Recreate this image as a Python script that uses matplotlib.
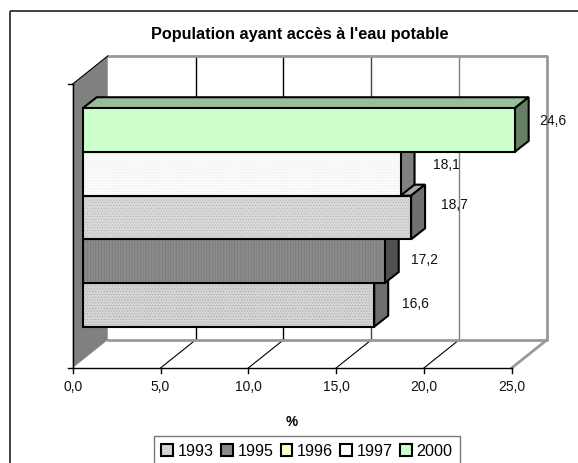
import matplotlib
matplotlib.use("Agg")
import matplotlib.pyplot as plt
from matplotlib.patches import Polygon, Rectangle

plt.rcParams['font.family'] = ['Liberation Sans', 'DejaVu Sans']
plt.rcParams['hatch.linewidth'] = 0.3

years = ['1993', '1995', '1996', '1997', '2000']
values = [16.6, 17.2, 18.7, 18.1, 24.6]
labels = ['16,6', '17,2', '18,7', '18,1', '24,6']
front_colors = ['#d4d4d4', '#8a8a8a', '#d8d8d8', '#fbfbfb', '#ccffcc']
hatch_colors = ['#a0a0a0', '#707070', '#a8a8a8', '#e4e4e4', None]
top_colors = ['#a0a0a0', '#707070', '#a8a8a8', '#b8b8b8', '#99bf99']
side_colors = ['#6e6e6e', '#505050', '#707070', '#808080', '#667f66']
hatches = ['......', '||||||', '......', '......', None]
legend_colors = ['#d4d4d4', '#8a8a8a', '#ffffcc', '#ffffff', '#ccffcc']
x_ticks = [0, 5, 10, 15, 20, 25]
x_ticklabels = ['0,0', '5,0', '10,0', '15,0', '20,0', '25,0']
grid_colors = ['black', 'black', '#444444', '#808080']

W, H = 578, 463
fig = plt.figure(figsize=(W / 100, H / 100), dpi=100)
# outer chart frame, runs off the right and bottom of the picture
fig.add_artist(Rectangle((9.5 / W, 1 - 11 / H), (590 - 9.5) / W, -(470 - 11) / H, transform=fig.transFigure,
                         fc='none', ec='#222222', lw=1.2, zorder=-1))

# front plane of the 3d box, in pixels: x 72.7-511.7, y 84-368
ax = fig.add_axes([72.7 / W, 1 - 368 / H, 439 / W, 284 / H])
ax.set_xlim(0, 25)
ax.set_ylim(-1.445, 5.055)
ax.axis('off')

ux = 439 / 25  # px per x unit
uy = 43.7      # px per bar
wall_dx, wall_dy = 35 / ux, 28 / uy
bar_x0 = 10 / ux
depth_x, depth_y = 14 / ux, 11 / uy
y0, y1 = -1.445, 5.055
# label nudges in px (dx, dy up), excel places these unevenly
label_nudge = [(14, 1), (12, 1.5), (16, 12), (18, 9), (10.5, 9)]


def poly(pts, **kw):
    p = Polygon(pts, closed=True, clip_on=False, zorder=3, **kw)
    ax.add_patch(p)
    return p


# left wall
poly([(0, y0), (wall_dx, y0 + wall_dy), (wall_dx, y1 + wall_dy), (0, y1)], fc='#808080', ec='none')

# back wall gridlines
for t, c in zip(x_ticks[1:-1], grid_colors):
    ax.plot([t + wall_dx, t + wall_dx], [y0 + wall_dy, y1 + wall_dy], color=c, lw=1, clip_on=False, zorder=1)
    ax.plot([t, t + wall_dx], [y0, y0 + wall_dy], color='black', lw=0.8, clip_on=False, zorder=1)
ax.plot([wall_dx, 25 + wall_dx, 25 + wall_dx, wall_dx],
        [y1 + wall_dy, y1 + wall_dy, y0 + wall_dy, y0 + wall_dy], color='#999999', lw=2, clip_on=False, zorder=1)
ax.plot([25, 25 + wall_dx], [y0, y0 + wall_dy], color='#999999', lw=2, clip_on=False, zorder=1)
ax.plot([0, wall_dx], [y1, y1 + wall_dy], color='black', lw=0.8, clip_on=False, zorder=4)

# bars, bottom one first so upper bars overlap
for i, v in enumerate(values):
    x_a, x_b = bar_x0, bar_x0 + v
    y_a, y_b = i - 0.5, i + 0.5
    poly([(x_a, y_b), (x_a + depth_x, y_b + depth_y), (x_b + depth_x, y_b + depth_y), (x_b, y_b)],
         fc=top_colors[i], ec='black', lw=1.5, joinstyle='miter')
    poly([(x_b, y_a), (x_b + depth_x, y_a + depth_y), (x_b + depth_x, y_b + depth_y), (x_b, y_b)],
         fc=side_colors[i], ec='black', lw=1.5, joinstyle='miter')
    if hatches[i]:
        ax.barh(i, v, height=1, left=bar_x0, color=front_colors[i], edgecolor=hatch_colors[i], lw=0,
                hatch=hatches[i], clip_on=False, zorder=3)
    else:
        ax.barh(i, v, height=1, left=bar_x0, color=front_colors[i], clip_on=False, zorder=3)
    ax.barh(i, v, height=1, left=bar_x0, facecolor='none', edgecolor='black', lw=1.5, clip_on=False, zorder=3)
    nx, ny = label_nudge[i]
    ax.text(x_b + depth_x + nx / ux, i + ny / uy, labels[i],
            fontsize=10, va='center', ha='left', color='#111111', zorder=5)

# axes lines and ticks
ax.plot([0, 25], [y0, y0], color='black', lw=1, clip_on=False, zorder=4)
ax.plot([0, 0], [y0, y1], color='black', lw=1, clip_on=False, zorder=4)
ax.plot([-5 / ux, 0], [y1, y1], color='black', lw=1, clip_on=False, zorder=4)
ax.plot([-5 / ux, 0], [y0, y0], color='black', lw=1, clip_on=False, zorder=4)
for t, lab in zip(x_ticks, x_ticklabels):
    ax.plot([t, t], [y0, y0 - 5 / uy], color='black', lw=1, clip_on=False, zorder=4)
    ax.text(t, y0 - 19 / uy, lab, fontsize=10, ha='center', va='center', color='#111111')

fig.text(299.5 / W, 1 - 34 / H, "Population ayant accès à l'eau potable", fontsize=11.7, fontweight='bold',
         ha='center', va='center')
fig.text(292 / W, 1 - 422 / H, '%', fontsize=9.8, fontweight='bold', ha='center', va='center')

# legend, box is cut by the bottom of the picture
handles = [Rectangle((0, 0), 1, 1, fc=legend_colors[i], ec='black', lw=1.5) for i in range(len(years))]
leg = fig.legend(handles, years, loc='center', bbox_to_anchor=(307 / W, 1 - 451 / H), ncol=5, frameon=True,
                 fontsize=11.6, fancybox=False, edgecolor='#555555', handlelength=0.72, handleheight=0.72,
                 handletextpad=0.3, columnspacing=0.45, borderpad=0.45, borderaxespad=0)
leg.get_frame().set_linewidth(1)

fig.savefig('out.png', dpi=100)
